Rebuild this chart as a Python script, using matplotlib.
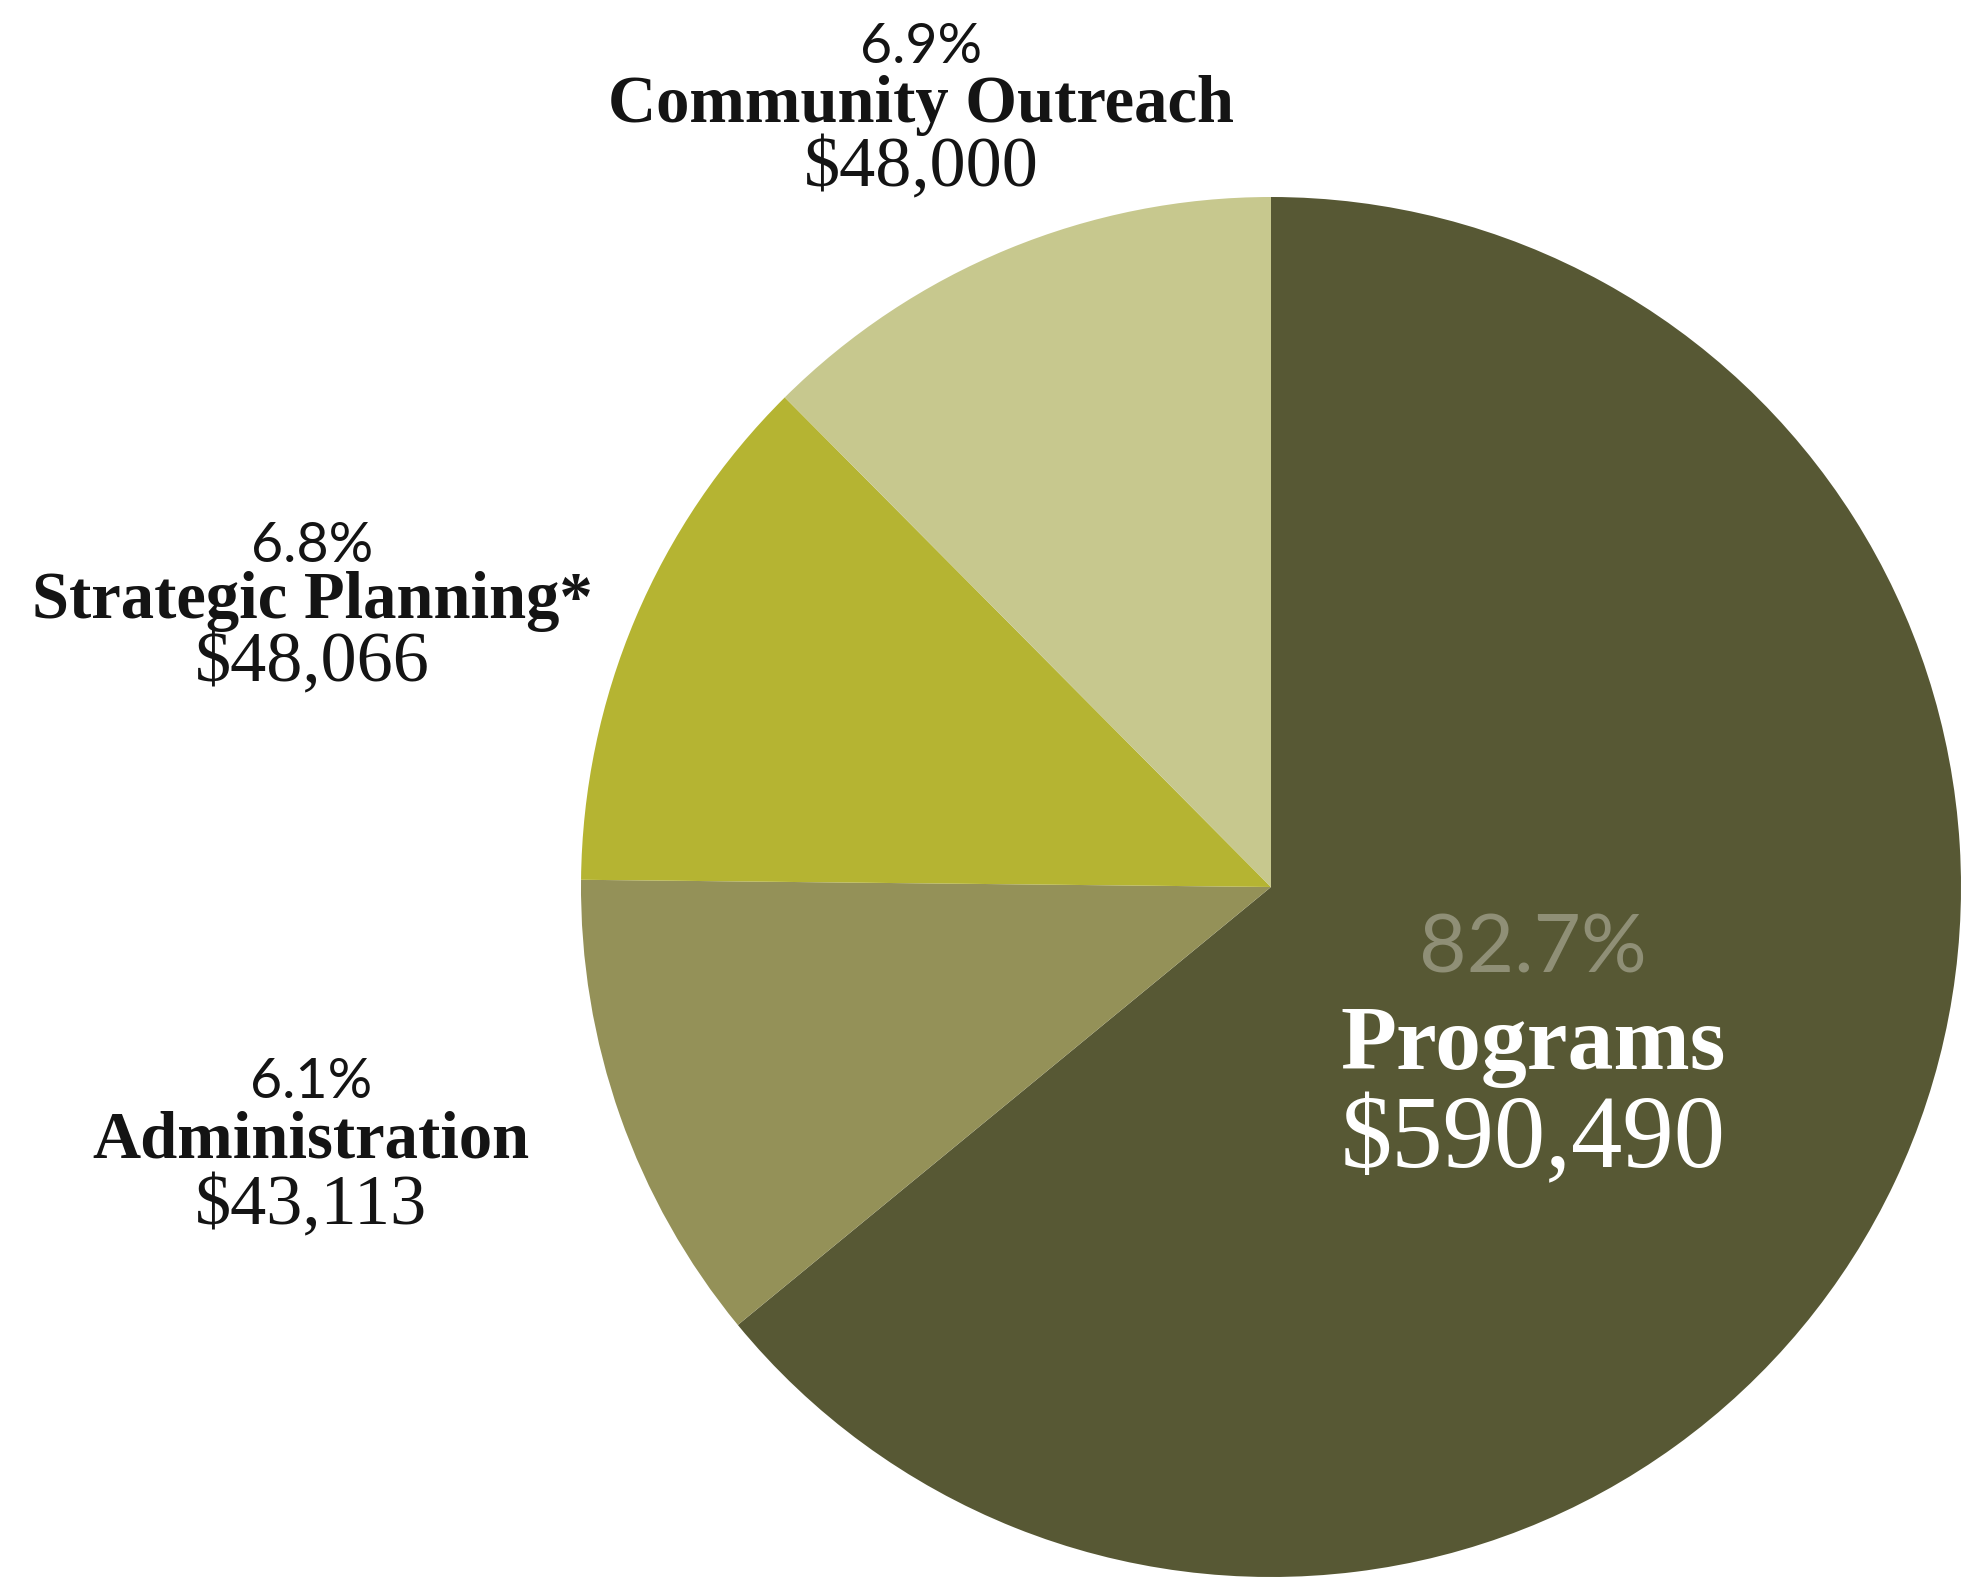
import matplotlib
matplotlib.use("Agg")
import matplotlib.pyplot as plt

# chart data (labels as printed on the chart)
categories = ["Programs", "Administration", "Strategic Planning*", "Community Outreach"]
amounts = ["$590,490", "$43,113", "$48,066", "$48,000"]
percents = ["82.7%", "6.1%", "6.8%", "6.9%"]
# slice sweep (degrees) as drawn in the original graphic
slice_deg = [230.6, 40.0, 44.6, 44.8]
colors = ["#575834", "#949158", "#b5b432", "#c7c88e"]

W, H = 1979, 1578
fig = plt.figure(figsize=(W / 100, H / 100), dpi=100)
fig.patch.set_facecolor("white")
ax = fig.add_axes([0, 0, 1, 1])

ax.pie(slice_deg, colors=colors, startangle=90, counterclock=False,
       center=(1271, 691), radius=690, frame=True,
       wedgeprops=dict(linewidth=0))
ax.set_xlim(0, W)
ax.set_ylim(0, H)
ax.set_aspect("equal")
ax.axis("off")

serif = "Liberation Serif"
sans = "Lato"

# label placement (x centre, baselines of the three lines), image px from top
label_pos = {
    "Community Outreach": (921, [63, 122, 186]),
    "Strategic Planning*": (312, [562, 618, 681]),
    "Administration": (311, [1098, 1157, 1224]),
}

for cat, amt, pct in zip(categories, amounts, percents):
    if cat == "Programs":
        continue
    x, ys = label_pos[cat]
    ax.text(x, H - ys[0], pct, ha="center", va="baseline",
            fontsize=40, family=sans, fontweight="normal", color="#141414")
    ax.text(x, H - ys[1], cat, ha="center", va="baseline",
            fontsize=48, family=serif, fontweight="bold", color="#141414")
    ax.text(x, H - ys[2], amt, ha="center", va="baseline",
            fontsize=52, family=serif, color="#141414")

# Programs label inside the big slice
ax.text(1533, H - 972, percents[0], ha="center", va="baseline",
        fontsize=59, family=sans, fontweight="normal", color="#8f8f76")
ax.text(1533, H - 1069, categories[0], ha="center", va="baseline",
        fontsize=66, family=serif, fontweight="bold", color="white")
ax.text(1533, H - 1167, amounts[0], ha="center", va="baseline",
        fontsize=74, family=serif, color="white")

fig.savefig("out.png", dpi=100, facecolor="white")
